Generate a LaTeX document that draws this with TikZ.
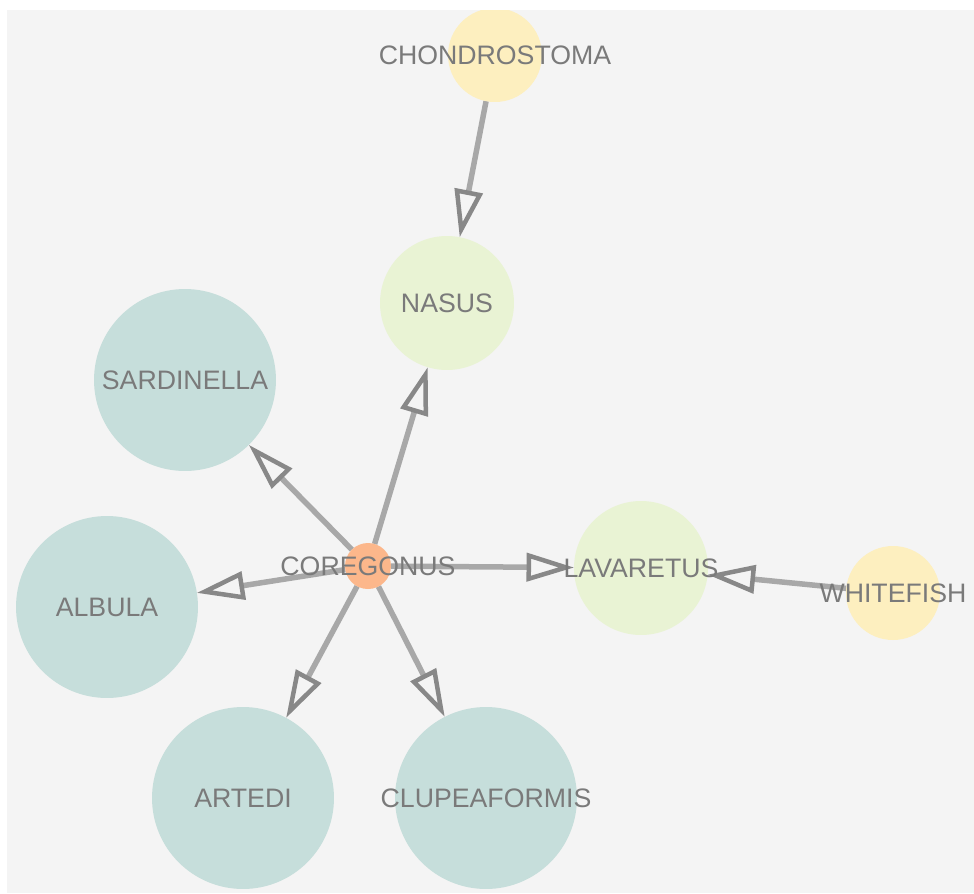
\documentclass[tikz,border=0pt]{standalone}
\usepackage{fontspec}
\setmainfont{Liberation Sans}
\usetikzlibrary{arrows.meta}
\pgfdeclarelayer{back}
\pgfdeclarelayer{edges}
\pgfdeclarelayer{front}
\pgfsetlayers{back,edges,main,front}
\definecolor{canvas}{HTML}{F4F4F4}
\definecolor{teal}{HTML}{C6DEDB}
\definecolor{lime}{HTML}{E9F3D4}
\definecolor{sand}{HTML}{FDEFBF}
\definecolor{peach}{HTML}{FCB78B}
\definecolor{txt}{HTML}{7A7A7A}
\definecolor{edgegray}{HTML}{A8A8A8}
\definecolor{tipgray}{HTML}{888888}
\tikzset{
  dot/.style={circle, inner sep=0pt, outer sep=0pt, draw=none},
  big/.style={dot, fill=teal, minimum size=3.64cm},
  mid/.style={dot, fill=lime, minimum size=2.68cm},
  small/.style={dot, fill=sand, minimum size=1.88cm},
  hub/.style={dot, fill=peach, minimum size=0.92cm},
  lbl/.style={text=txt, font=\fontsize{15.2}{16}\selectfont, inner sep=0pt},
  link/.style={draw=edgegray, line width=0.11cm,
    -{Triangle[open, length=0.95cm, width=0.56cm, line width=0.09cm, color=tipgray]}},
}
\begin{document}
\begin{tikzpicture}[x=0.02cm, y=-0.02cm]
  \useasboundingbox (0,0) rectangle (974,893);
  \begin{pgfonlayer}{back}
    \fill[white] (0,0) rectangle (974,893);
    \fill[canvas] (7,10) rectangle (974,893);
  \end{pgfonlayer}

  % species nodes
  \node[small, label={[lbl]center:CHONDROSTOMA}] (chondrostoma) at (495,55) {};
  \node[mid,   label={[lbl]center:NASUS}]        (nasus)        at (447,303) {};
  \node[big,   label={[lbl]center:SARDINELLA}]   (sardinella)   at (185,380) {};
  \node[big,   label={[lbl]center:ALBULA}]       (albula)       at (107,607) {};
  \node[big,   label={[lbl]center:ARTEDI}]       (artedi)       at (243,798) {};
  \node[big,   label={[lbl]center:CLUPEAFORMIS}] (clupeaformis) at (486,798) {};
  \node[hub,   label={[lbl]center:COREGONUS}]    (coregonus)    at (368,566) {};
  \node[mid,   label={[lbl]center:LAVARETUS}]    (lavaretus)    at (641,568) {};
  \node[small, label={[lbl]center:WHITEFISH}]    (whitefish)    at (893,593) {};

  % directed links
  \begin{pgfonlayer}{edges}
    \draw[link] (chondrostoma) -- (nasus);
    \draw[link] (coregonus) -- (nasus);
    \draw[link] (coregonus) -- (sardinella);
    \draw[link] (coregonus) -- (albula);
    \draw[link] (coregonus) -- (artedi);
    \draw[link] (coregonus) -- (clupeaformis);
    \draw[link] (coregonus) -- (lavaretus);
    \draw[link] (whitefish) -- (lavaretus);
  \end{pgfonlayer}

  % page margin over the canvas edge
  \begin{pgfonlayer}{front}
    \fill[white] (0,0) rectangle (974,10);
    \fill[white] (0,0) rectangle (7,893);
  \end{pgfonlayer}
\end{tikzpicture}
\end{document}
